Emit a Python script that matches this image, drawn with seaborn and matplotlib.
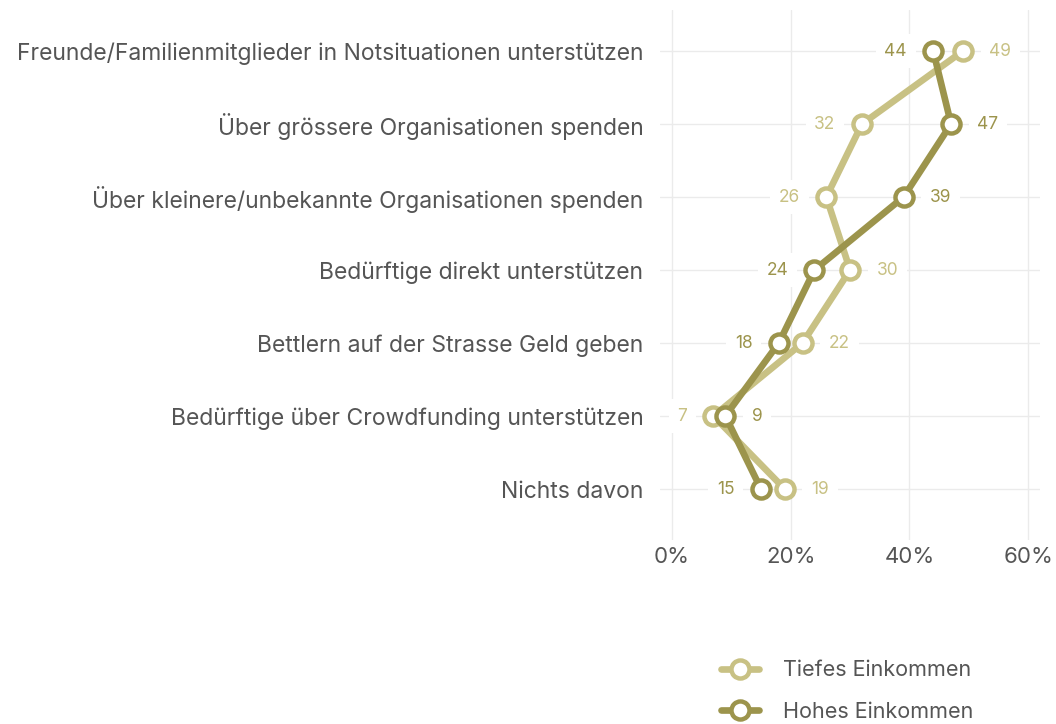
import numpy as np
import pandas as pd
import matplotlib
matplotlib.use("Agg")
import matplotlib.pyplot as plt
import seaborn as sns
from matplotlib.lines import Line2D

# data
categories = [
    "Freunde/Familienmitglieder in Notsituationen unterstützen",
    "Über grössere Organisationen spenden",
    "Über kleinere/unbekannte Organisationen spenden",
    "Bedürftige direkt unterstützen",
    "Bettlern auf der Strasse Geld geben",
    "Bedürftige über Crowdfunding unterstützen",
    "Nichts davon",
]
tiefes = [49, 32, 26, 30, 22, 7, 19]
hohes = [44, 47, 39, 24, 18, 9, 15]
groups = ["Tiefes Einkommen", "Hohes Einkommen"]
colors = {"Tiefes Einkommen": "#c8c184", "Hohes Einkommen": "#9c944c"}

df = pd.DataFrame({
    "pos": list(range(len(categories))) * 2,
    "value": tiefes + hohes,
    "group": [groups[0]] * len(categories) + [groups[1]] * len(categories),
})

sns.set_style("white")
plt.rcParams["font.family"] = ["Inter", "DejaVu Sans"]

fig = plt.figure(figsize=(10.56, 7.24), dpi=100)
ax = fig.add_axes([0.625, 0.254, 0.36, 0.732])

sns.lineplot(data=df, x="value", y="pos", hue="group", palette=colors,
             sort=False, estimator=None, orient="y", ax=ax, legend=False,
             linewidth=4.8, marker="o", markersize=13, markeredgewidth=3.2,
             markerfacecolor="white")
# marker edge colours per series
for line, g in zip(ax.get_lines(), groups):
    line.set_markeredgecolor(colors[g])
    line.set_zorder(3 if g == "Hohes Einkommen" else 2)

# value labels, placed on the side away from the other series
for i in range(len(categories)):
    t, h = tiefes[i], hohes[i]
    for v, other, g in [(t, h, groups[0]), (h, t, groups[1])]:
        side = 1 if v > other else -1
        ax.annotate(str(v), (v, i), xytext=(side * 19, 0), textcoords="offset points",
                    ha="left" if side > 0 else "right", va="center",
                    fontsize=12.5, color=colors[g],
                    bbox=dict(boxstyle="square,pad=0.5", fc="white", ec="none"),
                    zorder=4)

ax.set_xlim(-2, 62)
ax.set_ylim(6.7, -0.56)
ax.set_xticks([0, 20, 40, 60])
ax.set_xticklabels(["0%", "20%", "40%", "60%"])
ax.set_yticks(range(len(categories)))
ax.set_yticklabels(categories)
ax.tick_params(axis="both", length=0, labelsize=16, labelcolor="#555555")
ax.tick_params(axis="x", pad=5)
ax.tick_params(axis="y", pad=12)
for lab in ax.get_yticklabels():
    lab.set_fontsize(16.5)
ax.grid(True, color="#ebebeb", linewidth=1)
ax.set_axisbelow(True)
ax.set_xlabel("")
ax.set_ylabel("")
sns.despine(ax=ax, left=True, bottom=True)

handles = [Line2D([], [], color=colors[g], linewidth=4.8, marker="o", markersize=13,
                  markeredgewidth=3.2, markerfacecolor="white", markeredgecolor=colors[g])
           for g in groups]
fig.legend(handles, groups, loc="lower left", bbox_to_anchor=(0.664, -0.024),
           frameon=False, fontsize=15.5, labelcolor="#555555", handlelength=1.8,
           handletextpad=1.1, labelspacing=1.0)

fig.savefig("out.png", dpi=100)
